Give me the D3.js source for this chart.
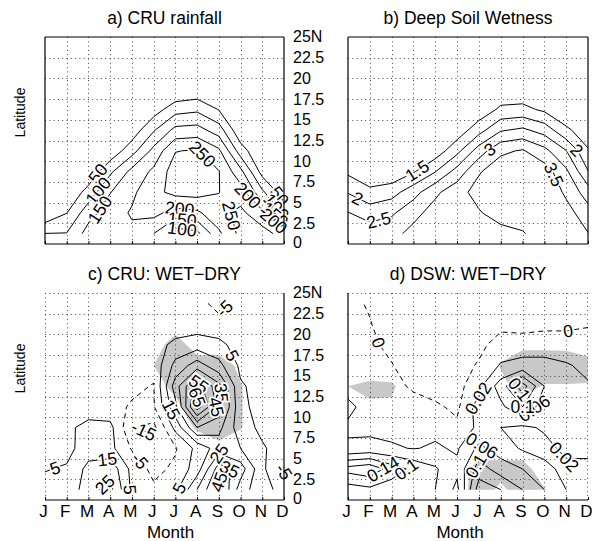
<!DOCTYPE html>
<html>
<head>
<meta charset="utf-8">
<script src="https://cdn.jsdelivr.net/npm/d3@7"></script>
<style>
  body { margin: 0; background: #fff; }
  svg text { font-family: "Liberation Sans", Arial, Helvetica, sans-serif; fill: #000; }
</style>
</head>
<body>
<svg id="fig" width="592" height="541"></svg>
<script>
// ---- axes ----
const months = ["J","F","M","A","M","J","J","A","S","O","N","D"];
const monthNumbers = [1,2,3,4,5,6,7,8,9,10,11,12];
const gridLatitudes = [1.25,3.75,6.25,8.75,11.25,13.75,16.25,18.75,21.25,23.75];
const latitudeTicks = [0,2.5,5,7.5,10,12.5,15,17.5,20,22.5,25];
const latitudeTickLabels = ["0","2.5","5","7.5","10","12.5","15","17.5","20","22.5","25N"];

// ---- fields: one row per grid latitude (south to north), one column per month ----
const cruRainfall = [
  [101,102,170,185,190,150, 70, 85,190,265,270,230],
  [  5, 49,130,178,205,215,180,190,235,262,215, 85],
  [  0,  5, 70,148,190,235,265,270,251,225,110, 20],
  [  0,  0, 10, 90,165,210,275,285,252,165, 30,  0],
  [  0,  0,  0, 15, 80,165,248,255,210, 75,  0,  0],
  [  0,  0,  0,  0, 20, 95,165,170,125, 10,  0,  0],
  [  0,  0,  0,  0,  0, 25, 80, 90, 48,  0,  0,  0],
  [  0,  0,  0,  0,  0,  0,  0, 10,  0,  0,  0,  0],
  [  0,  0,  0,  0,  0,  0,  0,  0,  0,  0,  0,  0],
  [  0,  0,  0,  0,  0,  0,  0,  0,  0,  0,  0,  0]
];
const deepSoilWetness = [
  [2.90,2.75,2.85,3.15,3.30,3.35,3.20,3.30,3.45,3.80,3.90,3.52],
  [2.52,2.30,2.42,2.85,3.20,3.40,3.45,3.75,3.80,3.90,3.70,3.20],
  [1.97,1.60,1.80,2.30,2.90,3.30,3.70,3.90,3.95,3.95,3.40,2.75],
  [1.40,1.20,1.10,1.45,1.98,2.70,3.45,3.80,3.90,3.75,3.10,2.02],
  [1.00,1.00,1.00,1.10,1.20,1.85,2.75,3.40,3.55,3.15,2.52,1.55],
  [0.90,0.90,0.90,0.90,1.00,1.20,1.80,2.45,2.60,2.30,1.60,1.20],
  [0.80,0.80,0.80,0.80,0.90,1.00,1.15,1.60,1.65,1.40,1.10,1.00],
  [0.70,0.70,0.70,0.70,0.80,0.90,1.00,1.10,1.10,1.00,0.90,0.80],
  [0.60,0.60,0.60,0.60,0.70,0.80,0.90,0.90,0.90,0.90,0.80,0.70],
  [0.50,0.50,0.50,0.50,0.60,0.70,0.80,0.80,0.80,0.80,0.70,0.60]
];
const cruWetMinusDry = [
  [ 8,  6, 22, 28,  3, -3,  2, 25, 48, 20,  8,  2],
  [4.5, 6, 18, 22,  2, -8, -3, 10, 40, 30,  7, -6],
  [ 2,  2, 10,  8, -6,-10, -6,  8, 20, 15,  6,  1],
  [ 1,  3,  8,  8,-14,-18,  8, 35, 28,  9,  3,  1],
  [ 0,  0,  0, -2, -6, -6, 22, 70, 42,  7,  2,  0],
  [ 0,  0,  0, -1, -3,-5.5,30, 60, 38,  6,  2,  0],
  [ 0,  0,  0,  0, -1, -2, 18, 30, 18,  3,  1,  0],
  [ 0,  0,  0,  0,  0,  0,  8, 10,  8,  0,  0,  0],
  [ 0,  0,  0,  0,  0,  0, -2,  0, -2, -1,  0,  0],
  [ 0,  0,  0,  0,  0,  0,  0, -2, -8, -2,  0,  0]
];
const dswWetMinusDry = [
  [0.080,0.090,0.080,0.070,0.060,0.010,0.160,0.140,0.100,0.060,0.020,0.010],
  [0.155,0.170,0.120,0.090,0.065,0.030,0.120,0.080,0.060,0.030,0.010,0.015],
  [0.024,0.030,0.025,0.018,0.025,0.015,0.070,0.040,0.015,0.008,0.030,0.025],
  [0.016,0.012,0.008,0.010,0.010,0.004,0.025,0.020,0.012,0.025,0.030,0.025],
  [0.026,0.010,0.006,0.005,0.003,-0.004,0.030,0.050,0.100,0.035,0.025,0.025],
  [0.010,0.008,0.004,-0.002,-0.008,-0.005,0.010,0.080,0.160,0.060,0.025,0.022],
  [0.008,0.006,0.001,-0.010,-0.012,-0.008,0.002,0.022,0.030,0.028,0.022,0.015],
  [0.005,0.004,-0.005,-0.015,-0.015,-0.012,-0.005,0.008,0.005,0.008,0.008,0.010],
  [0.005,0.001,-0.010,-0.015,-0.015,-0.010,-0.010,-0.005,-0.004,-0.004,-0.004,-0.002],
  [0.005,-0.002,-0.010,-0.010,-0.010,-0.010,-0.010,-0.010,-0.010,-0.010,-0.010,-0.010]
];
// significance fields (shaded where >= 0.5)
const cruSignificance = [
  [0,0,0,0,0,0,0,0,0,0,0,0],
  [0,0,0,0,0,0,0,0,0,0,0,0],
  [0,0,0,0,0,0,0,0,0.2,0,0,0],
  [0,0,0,0,0,0,0,0.6,1,0.55,0,0],
  [0,0,0,0,0,0,0.3,1,1,0.55,0,0],
  [0,0,0,0,0,0.2,0.7,1,1,0.55,0,0],
  [0,0,0,0,0,0.5,1,1,1,0.3,0,0],
  [0,0,0,0,0,0,1,0,0,0,0,0],
  [0,0,0,0,0,0,0,0,0,0,0,0],
  [0,0,0,0,0,0,0,0,0,0,0,0]
];
const dswSignificance = [
  [0,0,0,0,0,0,1,0.3,1,0.55,0,0],
  [0,0,0,0,0,0.05,0.862,0.862,0.862,0,0,0],
  [0,0,0,0,0,0,0,0,0,0,0,0],
  [0,0,0,0,0,0,0,0,0,0,0,0],
  [0.39,0.39,0.39,0,0,0,0,0,0.1,0,0,0],
  [0.5,0.676,0.62,0,0,0,0,0.3,0.8,0.444,0.444,0.444],
  [0,0,0,0,0,0,0,0.55,1,1,1,0.8],
  [0,0,0,0,0,0,0,0.2,0.324,0.324,0.3,0.1],
  [0,0,0,0,0,0,0,0,0,0,0,0],
  [0,0,0,0,0,0,0,0,0,0,0,0]
];

// ---- contour levels ----
const rainLevels = [50,100,150,200,250];
const soilLevels = [1.5,2,2.5,3,3.5];
const rainDiffLevels = [-15,-5,5,15,25,35,45,55,65];
const soilDiffLevels = [0,0.02,0.06,0.1,0.14];

// ---- inline contour labels: [level, month, latitude] ----
const rainLabels = [[50,3.4,8.6],[100,3.4,6.5],[150,3.5,4.2],[250,8.1,10.5],[200,7.2,4.2],
  [150,7.3,2.8],[100,7.3,1.6],[250,9.4,3.3],[200,10.1,5.3],[50,11.7,5.6],[100,11.7,4.6],
  [150,11.6,3.6],[200,11.5,2.7]];
const soilLabels = [[1.5,4.2,8.7],[2,1.4,5.3],[2.5,2.4,2.9],[3,7.6,11],[2,11.35,11],[3.5,10.2,8.1]];
const rainDiffLabels = [[-5,9.2,23.3],[5,9.5,17.3],[15,6.5,10.5],[-15,5.5,8.1],[-5,5.4,4.8],
  [15,3.85,5.2],[25,3.85,1.6],[5,1.85,1.0],[5,4.8,1.0],[5,7.2,1.4],[55,8.1,14.1],[65,8.1,12.5],
  [35,9.05,12.9],[45,9.05,11.2],[25,8.9,6.4],[35,9.66,4.0],[45,8.9,2.8],[-5,11.8,2.8]];
const soilDiffLabels = [[0,2.7,19.3],[0,11.1,20.3],[0.02,6.9,12.4],[0.14,8.9,12.4],[0.06,9.5,11.2],
  [0.1,9.4,10.3],[0.06,7.1,6.4],[0.1,6.6,4.5],[0.02,11.1,5.7],[0.14,2.9,4.8],[0.1,4.0,4.8]];

// ---- panel layout ----
const panels = [
  {title:"a) CRU rainfall", field:cruRainfall, levels:rainLevels, labels:rainLabels,
   left:45, right:284, top:37, bottom:244, frame:["top","right","bottom","left"], ylabel:true, xaxis:false, latTicks:true},
  {title:"b) Deep Soil Wetness", field:deepSoilWetness, levels:soilLevels, labels:soilLabels,
   left:348, right:588, top:37, bottom:244, frame:["top","right","bottom","left"], ylabel:false, xaxis:false, latTicks:false},
  {title:"c) CRU: WET\u2212DRY", field:cruWetMinusDry, levels:rainDiffLevels, labels:rainDiffLabels, signif:cruSignificance,
   left:45, right:284, top:293, bottom:500, frame:["right","bottom"], ylabel:true, xaxis:true, latTicks:true},
  {title:"d) DSW: WET\u2212DRY", field:dswWetMinusDry, levels:soilDiffLevels, labels:soilDiffLabels, signif:dswSignificance,
   left:348, right:588, top:293, bottom:500, frame:["left","bottom"], ylabel:false, xaxis:true, latTicks:false}
];

const svg = d3.select("#fig");

// marching squares: returns polylines as [month, latitude] points
function isolines(grid, level) {
  const nr = grid.length, nc = grid[0].length;
  const points = new Map(), links = new Map();
  const cross = (key, r1, c1, r2, c2) => {
    if (!points.has(key)) {
      const a = grid[r1][c1], b = grid[r2][c2], t = (level - a) / (b - a);
      points.set(key, [monthNumbers[c1] + (monthNumbers[c2] - monthNumbers[c1]) * t,
                       gridLatitudes[r1] + (gridLatitudes[r2] - gridLatitudes[r1]) * t]);
    }
    return key;
  };
  const join = (a, b) => {
    if (!links.has(a)) links.set(a, []);
    if (!links.has(b)) links.set(b, []);
    links.get(a).push(b); links.get(b).push(a);
  };
  for (let r = 0; r < nr - 1; r++) for (let c = 0; c < nc - 1; c++) {
    const v0 = grid[r][c], v1 = grid[r][c+1], v2 = grid[r+1][c+1], v3 = grid[r+1][c];
    const code = (v0 >= level ? 1 : 0) | (v1 >= level ? 2 : 0) | (v2 >= level ? 4 : 0) | (v3 >= level ? 8 : 0);
    if (code === 0 || code === 15) continue;
    const B = () => cross(`h${r},${c}`, r, c, r, c+1);
    const R = () => cross(`v${r},${c+1}`, r, c+1, r+1, c+1);
    const T = () => cross(`h${r+1},${c}`, r+1, c, r+1, c+1);
    const L = () => cross(`v${r},${c}`, r, c, r+1, c);
    const centre = (v0 + v1 + v2 + v3) / 4 >= level;
    switch (code) {
      case 1: case 14: join(L(), B()); break;
      case 2: case 13: join(B(), R()); break;
      case 3: case 12: join(L(), R()); break;
      case 4: case 11: join(R(), T()); break;
      case 6: case 9:  join(B(), T()); break;
      case 7: case 8:  join(L(), T()); break;
      case 5:  if (centre) { join(L(), T()); join(B(), R()); } else { join(L(), B()); join(R(), T()); } break;
      case 10: if (centre) { join(L(), B()); join(R(), T()); } else { join(L(), T()); join(B(), R()); } break;
    }
  }
  const seen = new Set(), chains = [];
  const walk = start => {
    const chain = [start]; seen.add(start);
    let prev = null, cur = start;
    for (;;) {
      const next = links.get(cur).find(k => k !== prev && !seen.has(k));
      if (next === undefined) {
        if (chain.length > 2 && links.get(cur).includes(start)) chain.push(start);
        break;
      }
      chain.push(next); seen.add(next); prev = cur; cur = next;
    }
    return chain.map(k => points.get(k));
  };
  for (const [k, v] of links) if (v.length === 1 && !seen.has(k)) chains.push(walk(k));
  for (const k of links.keys()) if (!seen.has(k)) chains.push(walk(k));
  return chains;
}

panels.forEach((p, pi) => {
  const xs = d3.scaleLinear().domain([1, 12]).range([p.left, p.right]);
  const ys = d3.scaleLinear().domain([0, 25]).range([p.bottom, p.top]);
  const g = svg.append("g");

  // significance shading
  if (p.signif) {
    const nr = p.signif.length, nc = p.signif[0].length;
    const dm = monthNumbers[1] - monthNumbers[0], dl = gridLatitudes[1] - gridLatitudes[0];
    const clipId = "clip" + pi;
    svg.append("clipPath").attr("id", clipId).append("rect")
      .attr("x", xs(monthNumbers[0])).attr("y", ys(gridLatitudes[nr - 1]))
      .attr("width", xs(monthNumbers[nc - 1]) - xs(monthNumbers[0]))
      .attr("height", ys(gridLatitudes[0]) - ys(gridLatitudes[nr - 1]));
    const polys = d3.contours().size([nc, nr]).thresholds([0.5])(p.signif.flat());
    const proj = d3.geoTransform({ point(x, y) {
      this.stream.point(xs(monthNumbers[0] + (x - 0.5) * dm), ys(gridLatitudes[0] + (y - 0.5) * dl));
    }});
    g.append("path").attr("d", d3.geoPath(proj)(polys[0]))
      .attr("fill", "#c8c8c8").attr("stroke", "none").attr("clip-path", `url(#${clipId})`);
  }

  // dotted grid
  const dots = g.append("g").attr("stroke", "#444").attr("stroke-width", 1).attr("stroke-dasharray", "1,3.3");
  monthNumbers.slice(1, -1).forEach(m => dots.append("line")
    .attr("x1", Math.round(xs(m)) + 0.5).attr("x2", Math.round(xs(m)) + 0.5)
    .attr("y1", p.top).attr("y2", p.bottom));
  latitudeTicks.slice(1, -1).forEach(l => dots.append("line")
    .attr("x1", p.left).attr("x2", p.right)
    .attr("y1", Math.round(ys(l)) + 0.5).attr("y2", Math.round(ys(l)) + 0.5));
  if (!p.frame.includes("top")) dots.append("line").attr("x1", p.left).attr("x2", p.right)
    .attr("y1", p.top + 0.5).attr("y2", p.top + 0.5);
  if (!p.frame.includes("left")) dots.append("line").attr("x1", p.left + 0.5).attr("x2", p.left + 0.5)
    .attr("y1", p.top).attr("y2", p.bottom);
  if (!p.frame.includes("right")) dots.append("line").attr("x1", p.right - 0.5).attr("x2", p.right - 0.5)
    .attr("y1", p.top).attr("y2", p.bottom);

  // contour lines
  const line = d3.line().x(d => xs(d[0])).y(d => ys(d[1]));
  const chainsByLevel = new Map();
  p.levels.forEach(level => {
    const chains = isolines(p.field, level);
    chainsByLevel.set(level, chains);
    chains.forEach(ch => g.append("path").attr("d", line(ch))
      .attr("fill", "none").attr("stroke", "#000").attr("stroke-width", 1)
      .attr("stroke-dasharray", level <= 0 ? "5,4" : null));
  });

  // inline labels
  p.labels.forEach(([level, m, lat]) => {
    const chains = chainsByLevel.get(level) || [];
    const ax = xs(m), ay = ys(lat);
    let best = null;
    chains.forEach(ch => {
      for (let i = 0; i < ch.length - 1; i++) {
        const x1 = xs(ch[i][0]), y1 = ys(ch[i][1]), x2 = xs(ch[i+1][0]), y2 = ys(ch[i+1][1]);
        const dx = x2 - x1, dy = y2 - y1, len2 = dx * dx + dy * dy || 1;
        const t = Math.max(0, Math.min(1, ((ax - x1) * dx + (ay - y1) * dy) / len2));
        const px = x1 + t * dx, py = y1 + t * dy, d = Math.hypot(ax - px, ay - py);
        if (!best || d < best.d) best = {d, px, py, angle: Math.atan2(dy, dx) * 180 / Math.PI};
      }
    });
    if (!best || best.d > 30) return;
    let a = best.angle;
    if (a > 90) a -= 180;
    if (a < -90) a += 180;
    g.append("text").attr("transform", `translate(${best.px},${best.py}) rotate(${a})`)
      .attr("text-anchor", "middle").attr("dy", "0.36em").attr("font-size", 17.5)
      .attr("stroke", "#fff").attr("stroke-width", 3.5).attr("paint-order", "stroke")
      .text(String(level));
  });

  // frame
  const edges = {
    top:    [p.left, p.top, p.right, p.top],
    bottom: [p.left, p.bottom, p.right, p.bottom],
    left:   [p.left, p.top, p.left, p.bottom],
    right:  [p.right, p.top, p.right, p.bottom]
  };
  p.frame.forEach(e => g.append("line").attr("x1", edges[e][0]).attr("y1", edges[e][1])
    .attr("x2", edges[e][2]).attr("y2", edges[e][3]).attr("stroke", "#000").attr("stroke-width", 1.2));

  // month axis
  const axis = d3.axisBottom(xs).tickValues(monthNumbers).tickFormat((d, i) => months[i])
    .tickSizeInner(-3).tickSizeOuter(0).tickPadding(5);
  const ax = g.append("g").attr("transform", `translate(0,${p.bottom})`).call(axis);
  ax.select(".domain").remove();
  if (p.xaxis) {
    ax.selectAll("text").attr("font-size", 17).attr("font-family", null).attr("dx", -2);
  } else {
    ax.selectAll("text").remove();
  }

  // latitude tick labels (shared between left and right panels)
  if (p.latTicks) {
    latitudeTicks.forEach((v, i) => g.append("text")
      .attr("x", 293).attr("y", ys(v) + (v === 0 ? -1 : 0)).attr("dy", "0.34em")
      .attr("font-size", 16).text(latitudeTickLabels[i]));
  }

  // titles
  g.append("text").attr("x", (p.left + p.right) / 2).attr("y", p.top - 13)
    .attr("text-anchor", "middle").attr("font-size", 17.5).text(p.title);
  if (p.ylabel) g.append("text")
    .attr("transform", `translate(25,${(p.top + p.bottom) / 2 - 28}) rotate(-90)`)
    .attr("text-anchor", "middle").attr("font-size", 14).text("Latitude");
  if (p.xaxis) g.append("text").attr("x", (p.left + p.right) / 2 + (pi === 2 ? 6 : -8)).attr("y", 538)
    .attr("text-anchor", "middle").attr("font-size", 17).text("Month");
});
</script>
</body>
</html>
